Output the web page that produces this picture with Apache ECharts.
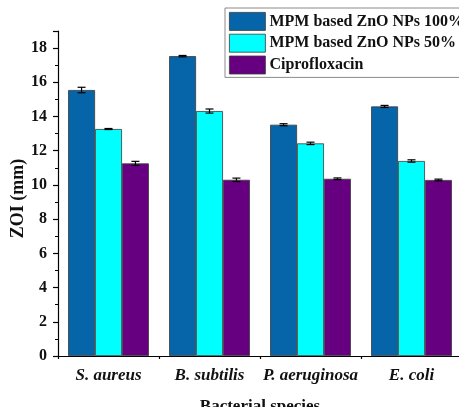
<!DOCTYPE html>
<html><head><meta charset="utf-8">
<script src="https://cdn.jsdelivr.net/npm/echarts@6/dist/echarts.min.js"></script>
<style>html,body{margin:0;padding:0;background:#fff}#c{width:459px;height:407px}</style>
</head><body><div id="c"></div>
<script>
var categories = ['S. aureus', 'B. subtilis', 'P. aeruginosa', 'E. coli'];
var seriesNames = ['MPM based ZnO NPs 100%', 'MPM based ZnO NPs 50%', 'Ciprofloxacin'];
var zno100 = [15.55, 17.53, 13.52, 14.59];
var zno50 = [13.27, 14.32, 12.43, 11.40];
var cipro = [11.26, 10.30, 10.36, 10.29];
var err100 = [0.16, 0.04, 0.06, 0.06];
var err50 = [0.03, 0.12, 0.07, 0.07];
var errCipro = [0.12, 0.1, 0.05, 0.05];
var yTicks = [0, 2, 4, 6, 8, 10, 12, 14, 16, 18];

var colors = ['#0565A8', '#00FFFF', '#660080'];
var values = [zno100, zno50, cipro];
var errs = [err100, err50, errCipro];
var font = '"Liberation Serif", "Times New Roman", serif';
var chart = echarts.init(document.getElementById('c'), null, {renderer: 'canvas'});

var series = [];
values.forEach(function (v, i) {
  series.push({
    name: seriesNames[i], type: 'bar', data: v, barGap: '0%', barCategoryGap: '20%',
    itemStyle: {color: colors[i], borderColor: '#3a3a3a', borderWidth: 0.8},
    emphasis: {disabled: true}, z: 2
  });
});
values.forEach(function (v, i) {
  series.push({
    type: 'custom', z: 5, silent: true,
    data: v.map(function (val, k) { return [k, val - errs[i][k], val + errs[i][k]]; }),
    renderItem: function (params, api) {
      var k = api.value(0);
      var lo = api.coord([k, api.value(1)]);
      var hi = api.coord([k, api.value(2)]);
      var band = api.size([1, 0])[0];
      var bw = band * 0.8 / 3;
      var x = lo[0] + (i - 1) * bw;
      var half = 4;
      var st = {stroke: '#000', lineWidth: 1.2};
      return {type: 'group', children: [
        {type: 'line', shape: {x1: x, y1: lo[1], x2: x, y2: hi[1]}, style: st},
        {type: 'line', shape: {x1: x - half, y1: lo[1], x2: x + half, y2: lo[1]}, style: st},
        {type: 'line', shape: {x1: x - half, y1: hi[1], x2: x + half, y2: hi[1]}, style: st}
      ]};
    }
  });
});

chart.setOption({
  animation: false,
  backgroundColor: '#fff',
  grid: {left: 58, top: 31, width: 404, height: 325, containLabel: false, outerBoundsMode: 'none'},
  legend: {
    data: seriesNames, orient: 'vertical', left: 225, top: 8,
    itemWidth: 36, itemHeight: 18, itemGap: 3, icon: 'rect',
    padding: [4, 10, 3, 4], borderColor: '#8a8a8a', borderWidth: 1,
    itemStyle: {borderColor: '#3a3a3a', borderWidth: 0.8},
    textStyle: {fontFamily: font, fontWeight: 'bold', fontSize: 16, color: '#111', padding: [0, 0, 0, -1]},
    selectedMode: false
  },
  xAxis: [{
    type: 'category', data: categories, position: 'bottom',
    name: 'Bacterial species', nameLocation: 'middle', nameGap: 42, nameMoveOverlap: false,
    nameTextStyle: {fontFamily: font, fontWeight: 'bold', fontSize: 17, color: '#111'},
    axisLine: {lineStyle: {color: '#000', width: 1.2}},
    axisTick: {alignWithLabel: true, length: 6, lineStyle: {color: '#000', width: 1.2}},
    axisLabel: {interval: 0, fontFamily: font, fontWeight: 'bold', fontStyle: 'italic', fontSize: 17, color: '#111', margin: 11}
  }, {
    type: 'category', data: categories, position: 'bottom',
    axisLine: {show: false},
    axisTick: {show: true, length: 3, lineStyle: {color: '#000', width: 1.2}},
    axisLabel: {show: false}
  }],
  yAxis: {
    type: 'value', min: 0, max: 19, interval: 2,
    name: 'ZOI (mm)', nameLocation: 'middle', nameGap: 31, nameMoveOverlap: false,
    nameTextStyle: {fontFamily: font, fontWeight: 'bold', fontSize: 18, color: '#111', padding: [0, 10, 0, 0]},
    axisLine: {show: true, lineStyle: {color: '#000', width: 1.2}},
    axisTick: {show: true, length: 5, lineStyle: {color: '#000', width: 1.2}},
    minorTick: {show: true, splitNumber: 2, length: 3, lineStyle: {color: '#000', width: 1}},
    splitLine: {show: false},
    axisLabel: {fontFamily: font, fontWeight: 'bold', fontSize: 16, color: '#111', margin: 11,
      formatter: function (v) { return yTicks.indexOf(v) >= 0 ? String(v) : ''; }}
  },
  series: series
});
</script></body></html>
